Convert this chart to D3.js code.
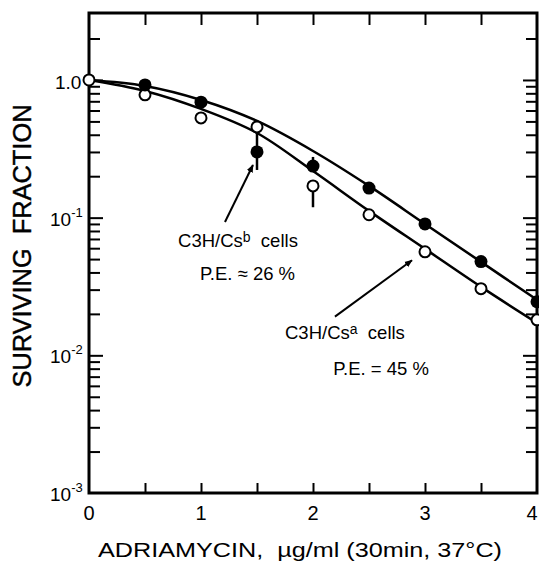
<!DOCTYPE html>
<html>
<head>
<meta charset="utf-8">
<script src="https://cdn.jsdelivr.net/npm/d3@7"></script>
<style>
  body { margin: 0; background: #fff; }
  svg { display: block; }
  text { font-family: "Liberation Sans", Arial, sans-serif; fill: #000; }
</style>
</head>
<body>
<div id="chart"></div>
<script>
// Filled circles: C3H/Csb cells
const csbDose = [0.5, 1, 1.5, 2, 2.5, 3, 3.5, 4];
const csbSurvival = [0.92, 0.69, 0.30, 0.237, 0.164, 0.090, 0.048, 0.0245];
// Open circles: C3H/Csa cells
const csaDose = [0, 0.5, 1, 1.5, 2, 2.5, 3, 3.5, 4];
const csaSurvival = [1.0, 0.78, 0.53, 0.456, 0.17, 0.105, 0.0565, 0.0305, 0.0181];

// Fitted curves
const curveDose = [0, 0.5, 1, 1.5, 2, 2.5, 3, 3.5, 4];
const csbCurve = [1.0, 0.905, 0.716, 0.504, 0.305, 0.170, 0.090, 0.0477, 0.0253];
const csaCurve = [1.0, 0.832, 0.616, 0.412, 0.218, 0.112, 0.0593, 0.0314, 0.0172];

// Error bars
const csbErrDose = [1.5, 2];
const csbErrLow = [0.222, 0.237];
const csbErrHigh = [0.41, 0.276];
const csaErrDose = [1.5, 2];
const csaErrLow = [0.456, 0.119];
const csaErrHigh = [0.51, 0.17];

// Axis ticks and labels
const xTicks = [0, 0.5, 1, 1.5, 2, 2.5, 3, 3.5, 4];
const xLabels = [0, 1, 2, 3, 4];
const yMajor = [1, 0.1, 0.01, 0.001];
const yMinor = [2, 0.9, 0.8, 0.7, 0.6, 0.5, 0.4, 0.3, 0.2,
                0.09, 0.08, 0.07, 0.06, 0.05, 0.04, 0.03, 0.02,
                0.009, 0.008, 0.007, 0.006, 0.005, 0.004, 0.003, 0.002];
const yLabelExp = [-1, -2, -3];

const width = 539, height = 565;
const plot = { left: 89, right: 537, top: 13, bottom: 493 };

const svg = d3.select("#chart").append("svg")
    .attr("width", width)
    .attr("height", height);

const x = d3.scaleLinear().domain([0, 4]).range([plot.left, plot.right]);
const y = d3.scaleLog().domain([0.001, 3.065]).range([plot.bottom, plot.top]);

// arrowhead
svg.append("defs").append("marker")
    .attr("id", "arrow")
    .attr("viewBox", "0 0 10 10")
    .attr("refX", 9).attr("refY", 5)
    .attr("markerWidth", 4).attr("markerHeight", 4)
    .attr("orient", "auto")
    .append("path").attr("d", "M0,1L10,5L0,9Z").attr("fill", "#000");

// ticks, pointing inwards on all four sides
function styleAxis(g) {
    g.select(".domain").remove();
    g.selectAll(".tick line").attr("stroke", "#000").attr("stroke-width", 2);
}

svg.append("g")
    .attr("transform", `translate(0,${plot.bottom})`)
    .call(d3.axisBottom(x).tickValues(xTicks.slice(1, -1)).tickSize(-10).tickFormat(""))
    .call(styleAxis);
svg.append("g")
    .attr("transform", `translate(0,${plot.top})`)
    .call(d3.axisTop(x).tickValues(xTicks.slice(1, -1)).tickSize(-12).tickFormat(""))
    .call(styleAxis);

[[d3.axisLeft, plot.left], [d3.axisRight, plot.right]].forEach(([axisFn, pos]) => {
    svg.append("g")
        .attr("transform", `translate(${pos},0)`)
        .call(axisFn(y).tickValues(yMajor.slice(0, -1)).tickSize(-14).tickFormat(""))
        .call(styleAxis);
    svg.append("g")
        .attr("transform", `translate(${pos},0)`)
        .call(axisFn(y).tickValues(yMinor).tickSize(-11).tickFormat(""))
        .call(styleAxis);
});

// frame
svg.append("rect")
    .attr("x", plot.left).attr("y", plot.top)
    .attr("width", plot.right - plot.left)
    .attr("height", plot.bottom - plot.top)
    .attr("fill", "none").attr("stroke", "#000").attr("stroke-width", 3);

// x tick labels (the last one is pulled in so it is not cut at the edge)
svg.append("g").selectAll("text")
    .data(xLabels)
    .enter().append("text")
    .attr("x", d => Math.min(x(d), width - 7))
    .attr("y", plot.bottom + 27)
    .attr("text-anchor", "middle")
    .attr("font-size", 20)
    .text(d => d);

// y tick labels
svg.append("text")
    .attr("x", 55).attr("y", y(1) + 9)
    .attr("font-size", 19)
    .text("1.0");
yLabelExp.forEach(e => {
    const t = svg.append("text")
        .attr("x", 50).attr("y", y(Math.pow(10, e)) + 8)
        .attr("font-size", 19);
    t.append("tspan").text("10");
    t.append("tspan").attr("dy", -9).attr("font-size", 13).text("-" + Math.abs(e));
});

// axis titles
svg.append("text")
    .attr("transform", "translate(31,246) rotate(-90)")
    .attr("text-anchor", "middle")
    .attr("font-size", 25)
    .attr("textLength", 283)
    .attr("lengthAdjust", "spacingAndGlyphs")
    .style("white-space", "pre")
    .style("stroke", "#000").style("stroke-width", 0.4)
    .text("SURVIVING  FRACTION");

svg.append("text")
    .attr("x", 98).attr("y", 557)
    .attr("font-size", 21)
    .attr("textLength", 404)
    .attr("lengthAdjust", "spacingAndGlyphs")
    .style("white-space", "pre")
    .text("ADRIAMYCIN,  \u00b5g/ml (30min, 37\u00b0C)");

// curves
const line = d3.line()
    .x(d => x(d[0]))
    .y(d => y(d[1]))
    .curve(d3.curveCatmullRom.alpha(0.5));

[csbCurve, csaCurve].forEach(c => {
    svg.append("path")
        .datum(curveDose.map((d, i) => [d, c[i]]))
        .attr("d", line)
        .attr("fill", "none")
        .attr("stroke", "#000")
        .attr("stroke-width", 2.5);
});

// error bars
function errBars(dose, low, high) {
    svg.append("g").selectAll("line")
        .data(dose)
        .enter().append("line")
        .attr("x1", d => x(d)).attr("x2", d => x(d))
        .attr("y1", (d, i) => y(low[i]))
        .attr("y2", (d, i) => y(high[i]))
        .attr("stroke", "#000").attr("stroke-width", 2.5);
}
errBars(csbErrDose, csbErrLow, csbErrHigh);
errBars(csaErrDose, csaErrLow, csaErrHigh);

// points
svg.append("g").selectAll("circle")
    .data(csaDose)
    .enter().append("circle")
    .attr("cx", d => x(d))
    .attr("cy", (d, i) => y(csaSurvival[i]))
    .attr("r", 5.5)
    .attr("fill", "#fff").attr("stroke", "#000").attr("stroke-width", 2);

svg.append("g").selectAll("circle")
    .data(csbDose)
    .enter().append("circle")
    .attr("cx", d => x(d))
    .attr("cy", (d, i) => y(csbSurvival[i]))
    .attr("r", 6.5)
    .attr("fill", "#000");

// annotations
function arrow(x0, y0, x1, y1) {
    svg.append("line")
        .attr("x1", x(x0)).attr("y1", y(y0))
        .attr("x2", x(x1)).attr("y2", y(y1))
        .attr("stroke", "#000").attr("stroke-width", 2)
        .attr("marker-end", "url(#arrow)");
}
arrow(1.214, 0.093, 1.464, 0.241);
arrow(2.196, 0.0191, 2.884, 0.049);

function cellLabel(dx, dy, sup) {
    const t = svg.append("text")
        .attr("x", x(dx)).attr("y", y(dy))
        .attr("font-size", 18.5)
        .style("white-space", "pre");
    t.append("tspan").text("C3H/Cs");
    t.append("tspan").attr("dy", -5).attr("font-size", 14).text(sup);
    t.append("tspan").attr("dy", 5).text("  cells");
}
cellLabel(0.795, 0.0612, "b");
cellLabel(1.75, 0.01322, "a");

svg.append("text")
    .attr("x", x(0.99)).attr("y", y(0.0353))
    .attr("font-size", 18.5)
    .text("P.E. \u2248 26 %");
svg.append("text")
    .attr("x", x(2.18)).attr("y", y(0.00722))
    .attr("font-size", 18.5)
    .text("P.E. = 45 %");
</script>
</body>
</html>
